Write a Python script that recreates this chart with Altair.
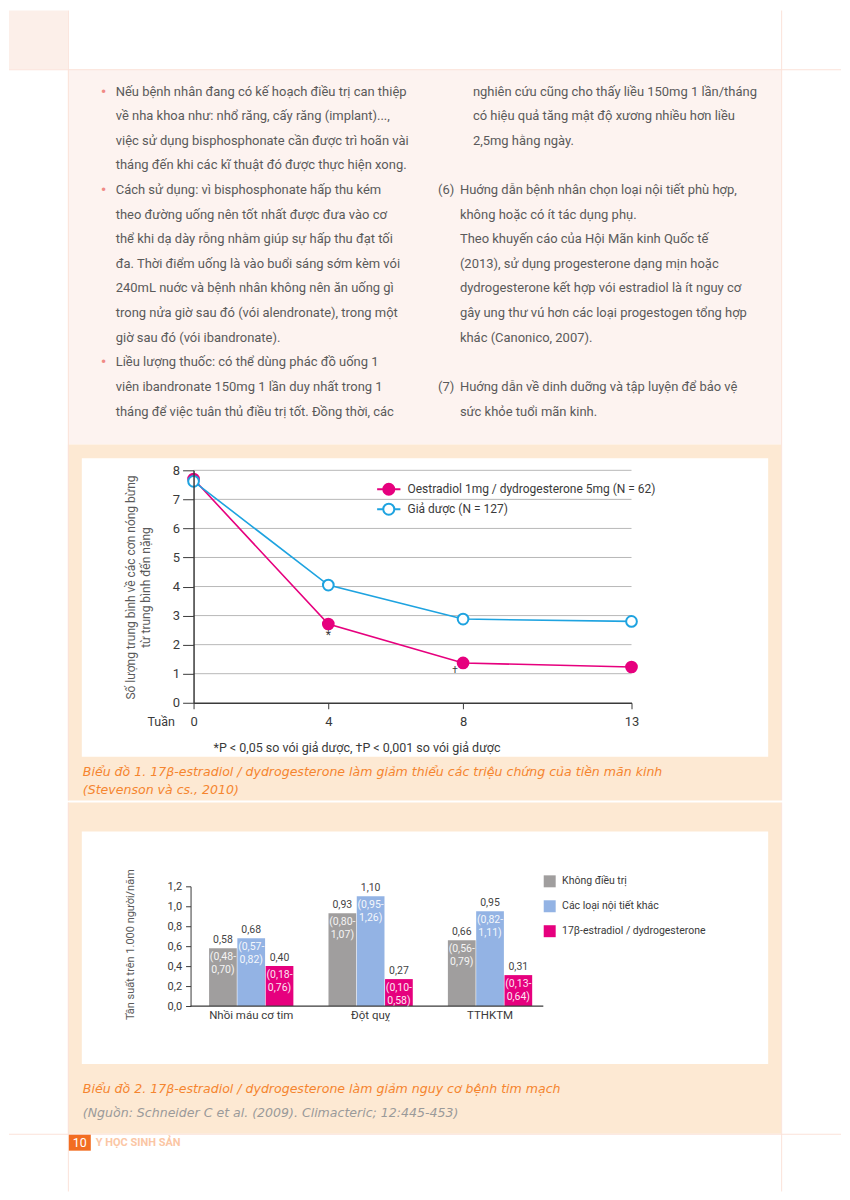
import altair as alt
import pandas as pd

# ---------------- chart 1 data ----------------
weeks = [0, 4, 8, 13]
series1 = ["Oestradiol 1mg / dydrogesterone 5mg (N = 62)", "Giả dược (N = 127)"]
oestradiol = [7.70, 2.71, 1.37, 1.23]
placebo = [7.62, 4.05, 2.88, 2.80]
y_grid1 = [1, 2, 3, 4, 5, 6, 7, 8]
y_ticks1 = [0, 1, 2, 3, 4, 5, 6, 7, 8]
x_ticks1 = [0, 4, 8, 13]
sig_weeks = [4, 8]
sig_vals = [2.71, 1.37]
sig_marks = ["*", "†"]

# ---------------- chart 2 data ----------------
outcomes = ["Nhồi máu cơ tim", "Đột quỵ", "TTHKTM"]
groups2 = ["Không điều trị", "Các loại nội tiết khác", "17β-estradiol / dydrogesterone"]
rate_untreated = [0.58, 0.93, 0.66]
rate_other_hrt = [0.68, 1.10, 0.95]
rate_e2_dyd = [0.40, 0.27, 0.31]
ci_untreated = [(0.48, 0.70), (0.80, 1.07), (0.56, 0.79)]
ci_other_hrt = [(0.57, 0.82), (0.95, 1.26), (0.82, 1.11)]
ci_e2_dyd = [(0.18, 0.76), (0.10, 0.58), (0.13, 0.64)]
y_ticks2 = [0, 0.2, 0.4, 0.6, 0.8, 1.0, 1.2]

# ---------------- page text ----------------
left_lines = [
    "Nếu bệnh nhân đang có kế hoạch điều trị can thiệp",
    "về nha khoa như: nhổ răng, cấy răng (implant)...,",
    "việc sử dụng bisphosphonate cần được trì hoãn vài",
    "tháng đến khi các kĩ thuật đó được thực hiện xong.",
    "Cách sử dụng: vì bisphosphonate hấp thu kém",
    "theo đường uống nên tốt nhất được đưa vào cơ",
    "thể khi dạ dày rỗng nhằm giúp sự hấp thu đạt tối",
    "đa. Thời điểm uống là vào buổi sáng sớm kèm vói",
    "240mL nuớc và bệnh nhân không nên ăn uống gì",
    "trong nửa giờ sau đó (vói alendronate), trong một",
    "giờ sau đó (vói ibandronate).",
    "Liều lượng thuốc: có thể dùng phác đồ uống 1",
    "viên ibandronate 150mg 1 lần duy nhất trong 1",
    "tháng để việc tuân thủ điều trị tốt. Đồng thời, các",
]
bullet_rows = [0, 4, 11]
right_cont_lines = [
    "nghiên cứu cũng cho thấy liều 150mg 1 lần/tháng",
    "có hiệu quả tăng mật độ xương nhiều hơn liều",
    "2,5mg hằng ngày.",
]
item6_lines = [
    "Huớng dẫn bệnh nhân chọn loại nội tiết phù hợp,",
    "không hoặc có ít tác dụng phụ.",
    "Theo khuyến cáo của Hội Mãn kinh Quốc tế",
    "(2013), sử dụng progesterone dạng mịn hoặc",
    "dydrogesterone kết hợp vói estradiol là ít nguy cơ",
    "gây ung thư vú hơn các loại progestogen tổng hợp",
    "khác (Canonico, 2007).",
]
item7_lines = [
    "Huớng dẫn về dinh duỡng và tập luyện để bảo vệ",
    "sức khỏe tuổi mãn kinh.",
]
item_numbers = ["(6)", "(7)"]
y_title1 = ["Số lượng trung bình về các cơn nóng bừng", "từ trung bình đến nặng"]
footnote1 = "*P < 0,05 so vói giả dược, †P < 0,001 so vói giả dược"
caption1 = ["Biểu đồ 1. 17β-estradiol / dydrogesterone làm giảm thiểu các triệu chứng của tiền mãn kinh",
            "(Stevenson và cs., 2010)"]
caption2 = "Biểu đồ 2. 17β-estradiol / dydrogesterone làm giảm nguy cơ bệnh tim mạch"
source2 = "(Nguồn: Schneider C et al. (2009). Climacteric; 12:445-453)"
y_title2 = "Tần suất trên 1.000 người/năm"
page_no = "10"
journal = "Y HỌC SINH SẢN"

# ---------------- styles ----------------
FONT = "Roboto"
CAPFONT = "DejaVu Sans"
PINK = "#e6007e"
BLUE = "#1ea3e0"
GRAYBAR = "#a09e9e"
LBLUEBAR = "#93b3e4"
TXT = "#5a5a5a"
AX = "#3a3a3a"
PANEL_PINK = "#fdf3f0"
PEACH = "#fde9d3"
LINEC = "#fbe2d9"
ORANGE = "#f5852f"
CAPSIZE = 12.6

ONE = pd.DataFrame({"k": [0]})


def box(x0, x1, y0, y1, color, ox, oy):
    return alt.Chart(ONE).mark_rect(color=color).encode(
        x=alt.value(x0 - ox), x2=alt.value(x1 - ox),
        y=alt.value(y0 - oy), y2=alt.value(y1 - oy))


def label(text, x, y, ox, oy, size, color, font=FONT, align="left",
          baseline="middle", **kw):
    return alt.Chart(ONE).mark_text(
        text=text, font=font, fontSize=size, color=color, align=align,
        baseline=baseline, **kw).encode(x=alt.value(x - ox), y=alt.value(y - oy))


def fmt(v):
    return f"{v:.2f}".replace(".", ",")


# ================= TOP SECTION (chart 1) =================
OX1, OY1 = 193, 469
W1, H1 = 439, 233
LH = 24.67
BODY = 13
base0 = 89.5 + 0.3 * BODY

decor_top = [
    box(8, 842, 8, 800, "white", OX1, OY1),
    box(8, 67, 8, 67, "#fcefe9", OX1, OY1),
    box(67, 782, 67, 443, PANEL_PINK, OX1, OY1),
    box(67, 782, 443, 800, PEACH, OX1, OY1),
    box(81, 769, 457, 756, "white", OX1, OY1),
    box(67, 68, 8, 800, LINEC, OX1, OY1),
    box(782, 783, 8, 800, LINEC, OX1, OY1),
    box(8, 842, 67, 68, LINEC, OX1, OY1),
]

texts_top = [
    label(left_lines, 115, base0, OX1, OY1, BODY, TXT, baseline="alphabetic", lineHeight=LH),
    label(right_cont_lines, 473, base0, OX1, OY1, BODY, TXT, baseline="alphabetic", lineHeight=LH),
    label(item6_lines, 460, base0 + 4 * LH, OX1, OY1, BODY, TXT, baseline="alphabetic", lineHeight=LH),
    label(item7_lines, 460, base0 + 12 * LH, OX1, OY1, BODY, TXT, baseline="alphabetic", lineHeight=LH),
    label(item_numbers[0], 438, base0 + 4 * LH, OX1, OY1, BODY, TXT, baseline="alphabetic"),
    label(item_numbers[1], 438, base0 + 12 * LH, OX1, OY1, BODY, TXT, baseline="alphabetic"),
    label(footnote1, 213, 747, OX1, OY1, 12.5, AX),
    label(caption1[0], 82, 771, OX1, OY1, CAPSIZE, ORANGE, font=CAPFONT, fontStyle="italic"),
    label(caption1[1], 82, 789, OX1, OY1, CAPSIZE, ORANGE, font=CAPFONT, fontStyle="italic"),
]
texts_top += [label("•", 100, 89.5 + r * LH, OX1, OY1, 17, "#f08a86")
              for r in bullet_rows]

rows1 = [{"week": w, "value": v, "series": series1[0]} for w, v in zip(weeks, oestradiol)]
rows1 += [{"week": w, "value": v, "series": series1[1]} for w, v in zip(weeks, placebo)]
df1 = pd.DataFrame(rows1)
df_sig = pd.DataFrame({"week": sig_weeks, "value": sig_vals, "t": sig_marks})
df_grid = pd.DataFrame({"g": y_grid1})

X1 = alt.Scale(domain=[0, 13], nice=False, zero=False)
Y1 = alt.Scale(domain=[0, 8], nice=False)
xaxis1 = alt.Axis(values=x_ticks1, title="Tuần", titleX=-33, titleY=19, titleAlign="center",
                  titleBaseline="middle", titleFont=FONT, titleFontSize=12.5,
                  titleFontWeight="normal", titleColor=AX, tickSize=6, labelPadding=7,
                  labelFont=FONT, labelFontSize=13, labelColor=AX, labelFlush=False,
                  labelOverlap=False, domainColor=AX, tickColor=AX, domainWidth=1.5,
                  grid=False, zindex=1)
yaxis1 = alt.Axis(values=y_ticks1, title=y_title1, titleX=-56, titleY=117, titleAlign="center",
                  titleBaseline="bottom", titleLineHeight=15, titleFont=FONT, titleFontSize=12,
                  titleFontWeight="normal", titleColor=TXT, tickSize=11, labelPadding=3,
                  labelFont=FONT, labelFontSize=13, labelColor=AX, labelOverlap=False,
                  domainColor=AX, tickColor=AX, domainWidth=1.5, grid=False, zindex=1)

LEG_PATH = ("M-1.46,0L-0.69,0M0.69,0L1.46,0M-0.69,0A0.69,0.69,0,1,0,0.69,0"
            "A0.69,0.69,0,1,0,-0.69,0Z")
leg1 = alt.Legend(title=None, orient="none", legendX=186.7, legendY=10, symbolType=LEG_PATH,
                  symbolSize=256, symbolStrokeWidth=2, labelFont=FONT, labelFontSize=12,
                  labelColor=AX, labelOffset=9.8, labelLimit=400, rowPadding=0, padding=0)

grid1 = alt.Chart(df_grid).mark_rule(color="#b8b8b8", strokeWidth=1).encode(
    y=alt.Y("g:Q", scale=Y1, axis=yaxis1), x=alt.datum(0), x2=alt.datum(13))

stroke1 = alt.Stroke("series:N", scale=alt.Scale(domain=series1, range=[PINK, BLUE]),
                     legend=leg1, sort=series1)
fill1 = alt.Fill("series:N", scale=alt.Scale(domain=series1, range=[PINK, "white"]),
                 legend=leg1, sort=series1)

line1 = alt.Chart(df1).mark_line(strokeWidth=1.6).encode(
    x=alt.X("week:Q", scale=X1, axis=xaxis1),
    y=alt.Y("value:Q", scale=Y1, axis=yaxis1),
    stroke=stroke1)
points1 = alt.Chart(df1).mark_point(filled=True, size=115, strokeWidth=2, opacity=1).encode(
    x=alt.X("week:Q", scale=X1, axis=xaxis1),
    y=alt.Y("value:Q", scale=Y1, axis=yaxis1),
    stroke=stroke1, fill=fill1)
star = alt.Chart(df_sig).transform_filter(alt.datum.t == "*").mark_text(
    dy=11, font=FONT, fontSize=12, color=AX).encode(
    x=alt.X("week:Q", scale=X1, axis=xaxis1), y=alt.Y("value:Q", scale=Y1, axis=yaxis1),
    text="t:N")
dagger = alt.Chart(df_sig).transform_filter(alt.datum.t == "†").mark_text(
    dx=-8, dy=7, font=FONT, fontSize=10, color=AX).encode(
    x=alt.X("week:Q", scale=X1, axis=xaxis1), y=alt.Y("value:Q", scale=Y1, axis=yaxis1),
    text="t:N")

top = alt.layer(*decor_top, *texts_top, grid1, line1, points1, star, dagger).properties(
    width=W1, height=H1)

# ================= BOTTOM SECTION (chart 2) =================
OX2, OY2 = 193, 884
W2, H2 = 355, 120

rows2 = []
for g, rates, cis in zip(groups2, [rate_untreated, rate_other_hrt, rate_e2_dyd],
                         [ci_untreated, ci_other_hrt, ci_e2_dyd]):
    for o, r, ci in zip(outcomes, rates, cis):
        rows2.append({"outcome": o, "group": g, "rate": r, "lbl": fmt(r),
                      "ci1": "(" + fmt(ci[0]) + "-", "ci2": fmt(ci[1]) + ")"})
df2 = pd.DataFrame(rows2)

X2 = alt.Scale(domain=outcomes, paddingInner=0.294, paddingOuter=0.13)
XO = alt.Scale(domain=groups2, paddingInner=0.02)
Y2 = alt.Scale(domain=[0, 1.2], nice=False)
C2 = alt.Scale(domain=groups2, range=[GRAYBAR, LBLUEBAR, PINK])

xaxis2 = alt.Axis(title=None, domain=False, ticks=False, labelPadding=4, labelFont=FONT,
                  labelFontSize=11.5, labelColor=AX, labelAngle=0, zindex=1)
yaxis2 = alt.Axis(values=y_ticks2, labelExpr="replace(format(datum.value, '.1f'), '.', ',')",
                  title=y_title2, titleX=-55, titleY=58, titleAlign="center",
                  titleBaseline="bottom", titleFont=FONT, titleFontSize=11,
                  titleFontWeight="normal", titleColor=TXT, offset=3, tickSize=5,
                  labelPadding=4, labelFont=FONT, labelFontSize=11, labelColor=AX,
                  labelOverlap=False, domainColor=AX, tickColor=AX, grid=False, zindex=1)
leg2 = alt.Legend(title=None, orient="none", legendX=351, legendY=-11, symbolType="square",
                  symbolSize=144, symbolStrokeWidth=0, labelFont=FONT, labelFontSize=10.5,
                  labelColor=AX, labelOffset=6.4, labelLimit=400, rowPadding=13, padding=0)

X2enc = alt.X("outcome:N", scale=X2, axis=xaxis2, sort=outcomes)
XOenc = alt.XOffset("group:N", scale=XO, sort=groups2)
Y2enc = alt.Y("rate:Q", scale=Y2, axis=yaxis2)

decor_bot = [
    box(8, 842, 800, 1190, "white", OX2, OY2),
    box(67, 782, 800, 1132, PEACH, OX2, OY2),
    box(81, 769, 829, 1062, "white", OX2, OY2),
    box(67, 68, 800, 1190, LINEC, OX2, OY2),
    box(782, 783, 800, 1190, LINEC, OX2, OY2),
    box(8, 842, 1132, 1133, LINEC, OX2, OY2),
    box(68, 90, 1133, 1149, "#f26d21", OX2, OY2),
]
texts_bot = [
    label(page_no, 79, 1141, OX2, OY2, 12.5, "white", align="center"),
    label(journal, 95, 1141, OX2, OY2, 11, "#fbc6a4", fontWeight="bold"),
    label(caption2, 82, 1087, OX2, OY2, CAPSIZE, ORANGE, font=CAPFONT, fontStyle="italic"),
    label(source2, 82, 1111, OX2, OY2, CAPSIZE, "#9a9a9a", font=CAPFONT, fontStyle="italic"),
]

baseline2 = alt.Chart(ONE).mark_rule(color=AX, strokeWidth=1.2).encode(
    y=alt.Y(datum=0, scale=Y2, axis=yaxis2), x=alt.value(-3), x2=alt.value(350.6))
bars = alt.Chart(df2).mark_bar().encode(
    x=X2enc, xOffset=XOenc, y=Y2enc,
    color=alt.Color("group:N", scale=C2, legend=leg2, sort=groups2))
vlabels = alt.Chart(df2).mark_text(dy=-8, font=FONT, fontSize=10.5, color="#444444").encode(
    x=X2enc, xOffset=XOenc, y=Y2enc, text="lbl:N")
ci1 = alt.Chart(df2).mark_text(dy=9, font=FONT, fontSize=10.5, color="white", opacity=0.9).encode(
    x=X2enc, xOffset=XOenc, y=Y2enc, text="ci1:N")
ci2 = alt.Chart(df2).mark_text(dy=21.5, font=FONT, fontSize=10.5, color="white", opacity=0.9).encode(
    x=X2enc, xOffset=XOenc, y=Y2enc, text="ci2:N")

bottom = alt.layer(*decor_bot, bars, baseline2, vlabels, ci1, ci2, *texts_bot).properties(
    width=W2, height=H2)

chart = alt.vconcat(top, bottom, spacing=0).resolve_scale(
    color="independent", fill="independent", stroke="independent"
).properties(padding=0, background="white").configure_view(stroke="transparent")

chart.save("out.html", embed_options={"renderer": "svg", "actions": False})
